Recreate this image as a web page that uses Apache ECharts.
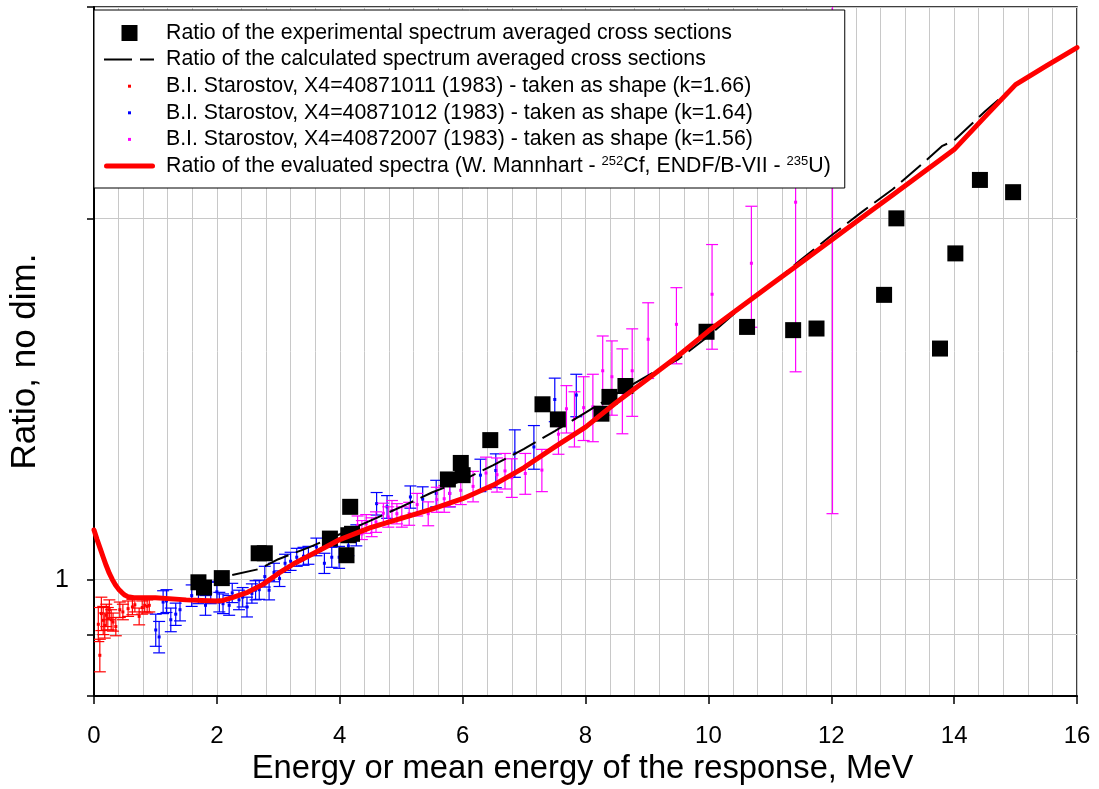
<!DOCTYPE html>
<html>
<head>
<meta charset="utf-8">
<script src="https://cdn.jsdelivr.net/npm/echarts@6/dist/echarts.min.js"></script>
<style>
  html, body { margin: 0; padding: 0; background: #fff; }
  #chart { width: 1099px; height: 789px; }
</style>
</head>
<body>
<div id="chart"></div>
<script>
// Axis ticks
const xTicks = [0, 2, 4, 6, 8, 10, 12, 14, 16];
const yTicks = [0.8, 0.9, 1, 2, 3];
const yLabels = [1];

// Ratio of the experimental spectrum averaged cross sections
const expX = [1.70, 1.79, 2.08, 2.68, 2.78, 3.84, 4.11, 4.17, 4.14, 4.20, 5.76, 5.97, 6.00, 6.45, 7.30,
              7.55, 8.26, 8.39, 8.65, 9.97, 10.63, 11.38, 11.76, 12.86, 13.06, 13.77, 14.02, 14.42, 14.96];
const expY = [0.995, 0.985, 1.003, 1.052, 1.052, 1.082, 1.048, 1.150, 1.089, 1.092, 1.212, 1.251, 1.222, 1.307, 1.400,
              1.360, 1.375, 1.420, 1.450, 1.609, 1.624, 1.614, 1.619, 1.727, 2.000, 1.558, 1.870, 2.153, 2.103];

// Ratio of the calculated spectrum averaged cross sections
const calcX = [2.25, 2.7, 3.0, 3.5, 4.0, 4.5, 5.0, 5.5, 6.0, 6.5, 7.0, 7.5, 8.0, 8.5, 9.0, 9.5, 10.0,
               10.5, 11.0, 11.5, 12.0, 12.5, 13.0, 13.5, 13.8, 14.0, 14.5, 15.0, 16.0];
const calcY = [1.009, 1.021, 1.040, 1.064, 1.091, 1.120, 1.150, 1.182, 1.210, 1.246, 1.285, 1.330, 1.378, 1.428, 1.478, 1.525, 1.595,
               1.680, 1.758, 1.846, 1.935, 2.025, 2.115, 2.225, 2.297, 2.322, 2.455, 2.585, 2.775];

// Ratio of the evaluated spectra
const evalX = [0, 0.05, 0.1, 0.15, 0.2, 0.25, 0.3, 0.35, 0.4, 0.45, 0.5, 0.55, 0.65, 1.0, 1.5, 1.75, 2.0, 2.1, 2.25, 2.5, 2.75, 3.0,
               3.25, 3.5, 3.75, 4.0, 4.5, 5.0, 5.5, 6.0, 6.5, 7.0, 7.5, 8.0, 8.5, 9.0, 9.5, 10.0, 10.5, 11.0, 11.5,
               12.0, 12.5, 13.0, 13.5, 14.0, 14.5, 15.0, 15.5, 16.0];
const evalY = [1.100, 1.080, 1.062, 1.044, 1.027, 1.012, 1.000, 0.990, 0.982, 0.976, 0.971, 0.968, 0.966, 0.966, 0.962, 0.961, 0.960, 0.961, 0.966, 0.976, 0.991, 1.012,
               1.031, 1.047, 1.063, 1.080, 1.105, 1.125, 1.145, 1.168, 1.199, 1.240, 1.290, 1.340, 1.405, 1.468, 1.535, 1.611, 1.683, 1.758, 1.836,
               1.918, 2.003, 2.092, 2.185, 2.282, 2.430, 2.585, 2.680, 2.775];

// B.I. Starostov, X4=40871011
const s11X = [0.07, 0.095, 0.12, 0.15, 0.175, 0.20, 0.225, 0.25, 0.28, 0.31, 0.355, 0.42, 0.47, 0.555, 0.625, 0.665, 0.735, 0.785, 0.825, 0.865, 0.90];
const s11Y = [0.918, 0.865, 0.937, 0.925, 0.916, 0.934, 0.928, 0.944, 0.926, 0.922, 0.914, 0.944, 0.940, 0.946, 0.949, 0.953, 0.932, 0.948, 0.952, 0.950, 0.952];
const s11E = [0.030, 0.027, 0.030, 0.025, 0.022, 0.020, 0.020, 0.018, 0.018, 0.016, 0.016, 0.014, 0.014, 0.014, 0.014, 0.013, 0.015, 0.012, 0.012, 0.012, 0.012];

// B.I. Starostov, X4=40871012
const s12X = [1.005, 1.06, 1.125, 1.18, 1.25, 1.33, 1.40, 1.59, 1.70, 1.815, 1.90, 2.00, 2.04, 2.10, 2.20, 2.25, 2.36, 2.42, 2.49, 2.57,
              2.63, 2.69, 2.78, 2.85, 2.93, 3.02, 3.11, 3.20, 3.30, 3.41, 3.49, 3.62, 3.75, 3.87, 3.99, 4.14, 4.27, 4.60, 4.77,
              5.15, 5.35, 5.57, 5.79, 6.29, 6.54, 6.85, 7.16, 7.50, 7.85];
const s12Y = [0.908, 0.896, 0.958, 0.960, 0.926, 0.936, 0.944, 0.970, 0.975, 0.952, 0.975, 0.977, 0.958, 0.955, 0.952, 0.975, 0.962, 0.967, 0.949, 0.974,
              0.980, 0.981, 1.006, 0.980, 1.014, 1.002, 1.032, 1.036, 1.044, 1.046, 1.048, 1.065, 1.032, 1.044, 1.044, 1.067, 1.089, 1.157, 1.150,
              1.172, 1.167, 1.180, 1.180, 1.222, 1.233, 1.275, 1.290, 1.413, 1.425];
const s12E = [0.028, 0.027, 0.021, 0.021, 0.021, 0.020, 0.020, 0.020, 0.020, 0.018, 0.020, 0.020, 0.018, 0.018, 0.018, 0.018, 0.018, 0.018, 0.018, 0.018,
              0.018, 0.018, 0.020, 0.018, 0.018, 0.015, 0.018, 0.018, 0.018, 0.018, 0.018, 0.018, 0.020, 0.020, 0.022, 0.020, 0.022, 0.025, 0.025,
              0.025, 0.028, 0.030, 0.030, 0.038, 0.040, 0.058, 0.054, 0.059, 0.058];

// B.I. Starostov, X4=40872007
const s07X = [4.29, 4.36, 4.43, 4.52, 4.59, 4.71, 4.79, 4.85, 4.93, 5.01, 5.13, 5.26, 5.44, 5.58, 5.70, 5.79, 5.97, 6.17, 6.38, 6.56,
              6.69, 6.80, 7.02, 7.29, 7.56, 7.69, 7.82, 7.97, 8.12, 8.28, 8.43, 8.60, 8.76, 9.02, 9.48, 10.06, 10.70, 11.42, 12.02];
const s07Y = [1.110, 1.100, 1.113, 1.106, 1.117, 1.136, 1.128, 1.142, 1.135, 1.128, 1.135, 1.155, 1.135, 1.166, 1.168, 1.180, 1.187, 1.196, 1.227, 1.223,
              1.232, 1.216, 1.226, 1.234, 1.322, 1.388, 1.362, 1.391, 1.393, 1.493, 1.476, 1.440, 1.493, 1.586, 1.632, 1.729, 1.835, 2.063, 2.250];
const s07E = [0.020, 0.020, 0.020, 0.020, 0.022, 0.022, 0.022, 0.022, 0.022, 0.022, 0.025, 0.025, 0.026, 0.028, 0.030, 0.030, 0.032, 0.035, 0.038, 0.040,
              0.042, 0.045, 0.048, 0.050, 0.050, 0.063, 0.072, 0.085, 0.090, 0.103, 0.105, 0.117, 0.125, 0.115, 0.119, 0.173, 0.212, 0.573, 1.115];

const FONT = '"Liberation Sans", Arial, Helvetica, sans-serif';
const GRID_GRAY = '#c8c8c8';

const NAME_EXP = 'Ratio of the experimental spectrum averaged cross sections';
const NAME_CALC = 'Ratio of the calculated spectrum averaged cross sections';
const NAME_S11 = 'B.I. Starostov, X4=40871011 (1983) - taken as shape (k=1.66)';
const NAME_S12 = 'B.I. Starostov, X4=40871012 (1983) - taken as shape (k=1.64)';
const NAME_S07 = 'B.I. Starostov, X4=40872007 (1983) - taken as shape (k=1.56)';
const NAME_EVAL = 'Ratio of the evaluated spectra (W. Mannhart - 252Cf, ENDF/B-VII - 235U)';
const RICH_EVAL = 'Ratio of the evaluated spectra (W. Mannhart - {sup|252}Cf, ENDF/B-VII - {sup|235}U)';

const pairs = (xs, ys) => xs.map((x, i) => [x, ys[i]]);
const errRows = (xs, ys, es) => xs.map((x, i) => [x, ys[i], ys[i] - es[i], ys[i] + es[i]]);

// Vertical error bar with caps and a small square marker at the value
function errorBarRenderer(color) {
  return function (params, api) {
    const x = api.value(0);
    const mid = api.coord([x, api.value(1)]);
    const lo = api.coord([x, api.value(2)]);
    const hi = api.coord([x, api.value(3)]);
    const cap = 6;
    const style = { stroke: color, lineWidth: 1.2, fill: null };
    return {
      type: 'group',
      children: [
        { type: 'line', shape: { x1: hi[0], y1: hi[1], x2: lo[0], y2: lo[1] }, style: style },
        { type: 'line', shape: { x1: hi[0] - cap, y1: hi[1], x2: hi[0] + cap, y2: hi[1] }, style: style },
        { type: 'line', shape: { x1: lo[0] - cap, y1: lo[1], x2: lo[0] + cap, y2: lo[1] }, style: style },
        { type: 'rect', shape: { x: mid[0] - 1.5, y: mid[1] - 1.5, width: 3, height: 3 }, style: { fill: color } }
      ]
    };
  };
}

// Legend icons, each drawn inside a 51x16 box (the leading moves fix the box size)
const ICON_BOX = 'M0,0M51,16';
const ICON_SQUARE = 'path://' + ICON_BOX + 'M17.5,0h16v16h-16z';
const ICON_DASH = 'path://' + ICON_BOX + 'M0,7h28v2h-28zM36,7h14v2h-14z';
const ICON_DOT = 'path://' + ICON_BOX + 'M24,6.5h3v3h-3z';
const ICON_THICK = 'path://' + ICON_BOX + 'M2.5,5.5h46a2.5,2.5 0 0 1 0,5h-46a2.5,2.5 0 0 1 0,-5z';

const chart = echarts.init(document.getElementById('chart'), null, { renderer: 'canvas' });

chart.setOption({
  backgroundColor: '#fff',
  animation: false,
  textStyle: { fontFamily: FONT, color: '#000' },
  grid: {
    left: 94, right: 22, top: 7, bottom: 93,
    outerBoundsMode: 'none',
    show: true, borderColor: '#000', borderWidth: 1.5, backgroundColor: 'transparent'
  },
  legend: {
    orient: 'vertical',
    left: 94, top: 10,
    padding: [12, 14, 11, 10],
    itemWidth: 51, itemHeight: 16, itemGap: 4.6,
    backgroundColor: '#fff', borderColor: '#000', borderWidth: 1,
    selectedMode: false,
    textStyle: {
      fontFamily: FONT, fontSize: 21.3, color: '#000', lineHeight: 22, padding: [0, 0, 0, 6],
      rich: { sup: { fontFamily: FONT, fontSize: 13, color: '#000', verticalAlign: 'top' } }
    },
    formatter: function (name) { return name === NAME_EVAL ? RICH_EVAL : name; },
    data: [
      { name: NAME_EXP, icon: ICON_SQUARE, itemStyle: { color: '#000', borderWidth: 0 } },
      { name: NAME_CALC, icon: ICON_DASH, itemStyle: { color: '#000', borderWidth: 0 } },
      { name: NAME_S11, icon: ICON_DOT, itemStyle: { color: '#ff0000', borderWidth: 0 } },
      { name: NAME_S12, icon: ICON_DOT, itemStyle: { color: '#0000ff', borderWidth: 0 } },
      { name: NAME_S07, icon: ICON_DOT, itemStyle: { color: '#ff00ff', borderWidth: 0 } },
      { name: NAME_EVAL, icon: ICON_THICK, itemStyle: { color: '#ff0000', borderWidth: 0 } }
    ]
  },
  xAxis: {
    type: 'value', min: xTicks[0], max: xTicks[xTicks.length - 1], interval: 2,
    name: 'Energy or mean energy of the response, MeV',
    nameLocation: 'middle', nameGap: 54,
    nameTextStyle: { fontFamily: FONT, fontSize: 32.7, color: '#000', padding: [0, 6, 0, 0] },
    axisLine: { onZero: false, lineStyle: { color: '#000', width: 2 } },
    axisTick: { length: 8, lineStyle: { color: '#000', width: 1.5 } },
    axisLabel: { fontFamily: FONT, fontSize: 24, color: '#000', margin: 28 },
    splitLine: { show: true, lineStyle: { color: GRID_GRAY, width: 1 } },
    minorTick: { show: false, splitNumber: 5 },
    minorSplitLine: { show: true, lineStyle: { color: GRID_GRAY, width: 1 } }
  },
  yAxis: {
    type: 'log', logBase: 10, min: yTicks[0], max: yTicks[yTicks.length - 1],
    name: 'Ratio, no dim.',
    nameLocation: 'middle', nameGap: 51, nameRotate: 90,
    nameTextStyle: { fontFamily: FONT, fontSize: 35, color: '#000', padding: [0, 20, 0, 0] },
    axisLine: { onZero: false, lineStyle: { color: '#000', width: 2 } },
    axisTick: { customValues: yTicks, length: 7, lineStyle: { color: '#000', width: 1.5 } },
    axisLabel: { customValues: yLabels, fontFamily: FONT, fontSize: 25, color: '#000', margin: 25,
                 formatter: function (v) { return String(v); } },
    splitLine: { show: true, lineStyle: { color: GRID_GRAY, width: 1 } }
  },
  series: [
    {
      name: NAME_EXP, type: 'scatter', symbol: 'rect', symbolSize: 16,
      itemStyle: { color: '#000', opacity: 1 },
      data: pairs(expX, expY)
    },
    {
      name: NAME_CALC, type: 'line', symbol: 'none', showSymbol: false,
      lineStyle: { color: '#000', width: 2, type: [26, 8] },
      itemStyle: { color: '#000' },
      data: pairs(calcX, calcY)
    },
    {
      name: NAME_S11, type: 'custom', clip: true,
      itemStyle: { color: '#ff0000' },
      renderItem: errorBarRenderer('#ff0000'),
      encode: { x: 0, y: [1, 2, 3] },
      data: errRows(s11X, s11Y, s11E)
    },
    {
      name: NAME_S12, type: 'custom', clip: true,
      itemStyle: { color: '#0000ff' },
      renderItem: errorBarRenderer('#0000ff'),
      encode: { x: 0, y: [1, 2, 3] },
      data: errRows(s12X, s12Y, s12E)
    },
    {
      name: NAME_S07, type: 'custom', clip: true,
      itemStyle: { color: '#ff00ff' },
      renderItem: errorBarRenderer('#ff00ff'),
      encode: { x: 0, y: [1, 2, 3] },
      data: errRows(s07X, s07Y, s07E)
    },
    {
      name: NAME_EVAL, type: 'line', symbol: 'none', showSymbol: false,
      lineStyle: { color: '#ff0000', width: 5, cap: 'round', join: 'round' },
      itemStyle: { color: '#ff0000' },
      data: pairs(evalX, evalY)
    }
  ]
});
</script>
</body>
</html>
